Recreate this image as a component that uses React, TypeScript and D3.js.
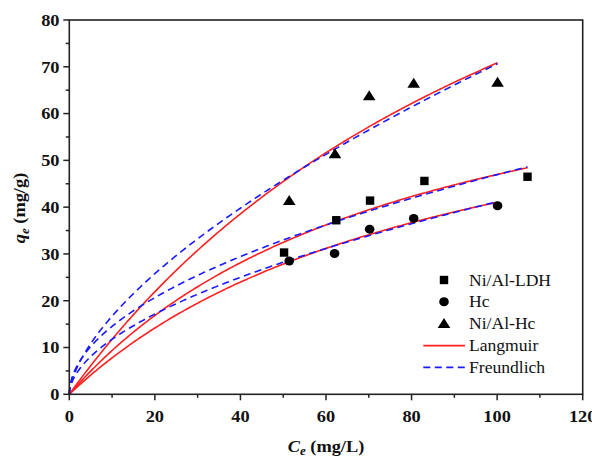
import React from "react";
import * as d3 from "d3";

// Experimental data (Ce mg/L, qe mg/g)
const ldhC = [50.2, 62.4, 70.3, 83.0, 107.1];
const ldhQ = [30.3, 37.2, 41.4, 45.6, 46.5];
const hcC = [51.4, 62.0, 70.2, 80.5, 100.1];
const hcQ = [28.5, 30.1, 35.3, 37.6, 40.3];
const niHcC = [51.4, 62.1, 70.1, 80.5, 100.1];
const niHcQ = [41.4, 51.4, 63.8, 66.5, 66.7];

// Fit parameters, order: Ni/Al-LDH, Hc, Ni/Al-Hc
const langQm = [85, 78, 160];
const langK = [0.01236, 0.0111, 0.00794];
const freKf = [4.49, 3.36, 3.95];
const freN = [1.962, 1.838, 1.597];
const fitMaxC = [107.1, 100.1, 100.1];

const xTicks = [0, 20, 40, 60, 80, 100, 120];
const yTicks = [0, 10, 20, 30, 40, 50, 60, 70, 80];

const legendLabels = ["Ni/Al-LDH", "Hc", "Ni/Al-Hc", "Langmuir", "Freundlich"];

const W = 592;
const H = 457;
const L = 69.3, R = 582.7, T = 20, B = 394.3;
const SX = 1.08;
const FONT = '"Liberation Serif", "Times New Roman", Tinos, serif';

export default function App() {
  const x = d3.scaleLinear().domain([0, 120]).range([L, R]);
  const y = d3.scaleLinear().domain([0, 80]).range([B, T]);
  const line = d3
    .line<[number, number]>()
    .x((d) => x(d[0]))
    .y((d) => y(d[1]));

  const sampleC = (max: number) => {
    const pts: number[] = [];
    for (let c = 0; c <= 2; c += 0.02) pts.push(c);
    for (let c = 2.2; c < max; c += 0.4) pts.push(c);
    pts.push(max);
    return pts;
  };

  const langPaths = langQm.map((qm, i) =>
    line(sampleC(fitMaxC[i]).map((c) => [c, (qm * langK[i] * c) / (1 + langK[i] * c)]))
  );
  const frePaths = freKf.map((kf, i) =>
    line(sampleC(fitMaxC[i]).map((c) => [c, kf * Math.pow(c, 1 / freN[i])]))
  );

  const tri = (cx: number, cy: number) =>
    `M${cx},${cy - 5.5}L${cx + 6.3},${cy + 4.5}L${cx - 6.3},${cy + 4.5}Z`;

  const minorX = d3.range(10, 120, 20);
  const minorY = d3.range(5, 80, 10);

  const red = "#ff2020";
  const blue = "#1a1aff";

  const legX = 444;
  const legRows = [280, 301.8, 323.6, 345.6, 367.4];
  const legTextX = 469;

  const ts = { fontFamily: FONT };

  return (
    <svg
      width={W}
      height={H}
      style={{ position: "absolute", left: 0, top: 0, background: "#fff", fontFamily: FONT }}
    >
      <rect x={0} y={0} width={W} height={H} fill="#fff" />
      {/* fit curves */}
      {langPaths.map((d, i) => (
        <path key={"l" + i} d={d || ""} fill="none" stroke={red} strokeWidth={1.6} />
      ))}
      {frePaths.map((d, i) => (
        <path
          key={"f" + i}
          d={d || ""}
          fill="none"
          stroke={blue}
          strokeWidth={1.6}
          strokeDasharray="7 4.5"
        />
      ))}
      {/* data points */}
      {ldhC.map((c, i) => (
        <rect key={"s" + i} x={x(c) - 4.2} y={y(ldhQ[i]) - 4.2} width={8.4} height={8.4} fill="#000" />
      ))}
      {hcC.map((c, i) => (
        <ellipse key={"c" + i} cx={x(c)} cy={y(hcQ[i])} rx={4.8} ry={4.5} fill="#000" />
      ))}
      {niHcC.map((c, i) => (
        <path key={"t" + i} d={tri(x(c), y(niHcQ[i]))} fill="#000" />
      ))}

      {/* frame */}
      <rect x={L} y={T} width={R - L} height={B - T} fill="none" stroke="#222" strokeWidth={1.6} />

      {/* x ticks */}
      {xTicks.map((t) => (
        <g key={"xt" + t}>
          <line x1={x(t)} x2={x(t)} y1={B} y2={B + 6} stroke="#222" strokeWidth={1.5} />
          <text
            style={ts}
            transform={`translate(${x(t)},${421.5}) scale(${SX},1)`}
            textAnchor="middle"
            fontSize={17}
            fontWeight="bold"
            fill="#111"
          >
            {t}
          </text>
        </g>
      ))}
      {minorX.map((t) => (
        <line key={"xm" + t} x1={x(t)} x2={x(t)} y1={B} y2={B + 3.5} stroke="#222" strokeWidth={1.5} />
      ))}
      {/* y ticks */}
      {yTicks.map((t) => (
        <g key={"yt" + t}>
          <line x1={L - 6} x2={L} y1={y(t)} y2={y(t)} stroke="#222" strokeWidth={1.5} />
          <text
            style={ts}
            transform={`translate(${59.5},${y(t) + 5.8}) scale(${SX},1)`}
            textAnchor="end"
            fontSize={17}
            fontWeight="bold"
            fill="#111"
          >
            {t}
          </text>
        </g>
      ))}
      {minorY.map((t) => (
        <line key={"ym" + t} x1={L - 3.5} x2={L} y1={y(t)} y2={y(t)} stroke="#222" strokeWidth={1.5} />
      ))}

      {/* axis titles */}
      <text
        style={ts}
        transform={`translate(${326},${451.5}) scale(${SX},1)`}
        textAnchor="middle"
        fontSize={17}
        fontWeight="bold"
        fill="#111"
      >
        <tspan fontStyle="italic">C</tspan>
        <tspan fontStyle="italic" fontSize={12} dy={3}>e</tspan>
        <tspan dy={-3}> (mg/L)</tspan>
      </text>
      <text
        style={ts}
        transform={`translate(${25},${208}) rotate(-90) scale(${SX},1)`}
        textAnchor="middle"
        fontSize={17}
        fontWeight="bold"
        fill="#111"
      >
        <tspan fontStyle="italic">q</tspan>
        <tspan fontStyle="italic" fontSize={12} dy={4}>e</tspan>
        <tspan dy={-4}> (mg/g)</tspan>
      </text>

      {/* legend */}
      <rect x={legX - 4.2} y={legRows[0] - 4.2} width={8.4} height={8.4} fill="#000" />
      <ellipse cx={legX} cy={legRows[1]} rx={4.8} ry={4.5} fill="#000" />
      <path d={tri(legX, legRows[2])} fill="#000" />
      <line x1={423.3} x2={465} y1={legRows[3]} y2={legRows[3]} stroke={red} strokeWidth={1.6} />
      <line
        x1={423.3}
        x2={465}
        y1={legRows[4]}
        y2={legRows[4]}
        stroke={blue}
        strokeWidth={1.6}
        strokeDasharray="7 4.5"
      />
      {legendLabels.map((lab, i) => (
        <text
          key={lab}
          style={ts}
          transform={`translate(${legTextX},${legRows[i] + 5.5}) scale(1.1,1)`}
          fontSize={16}
          fill="#111"
        >
          {lab}
        </text>
      ))}
    </svg>
  );
}
